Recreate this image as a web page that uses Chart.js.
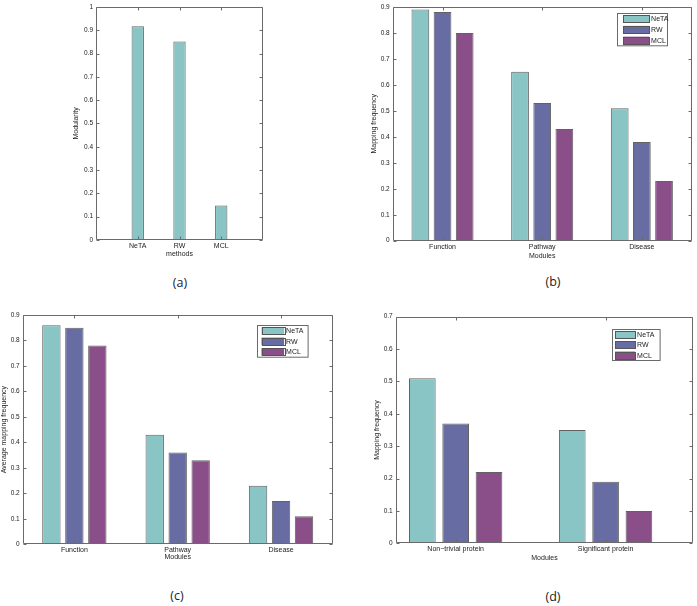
<!DOCTYPE html>
<html><head><meta charset="utf-8">
<script src="https://cdn.jsdelivr.net/npm/chart.js@4.4.0/dist/chart.umd.min.js"></script>
<style>
html,body{margin:0;padding:0;background:#fff;width:697px;height:606px;overflow:hidden;position:relative}
canvas{position:absolute}
.lab{position:absolute;font-family:'Open Sans',sans-serif;font-size:12.5px;color:#222;transform:translate(-50%,-50%);white-space:nowrap}
</style></head><body>
<canvas id="ca" width="230" height="260" style="left:50px;top:0px"></canvas>
<canvas id="cb" width="332" height="262" style="left:365px;top:0px"></canvas>
<canvas id="cc" width="345" height="265" style="left:0px;top:300px"></canvas>
<canvas id="cd" width="337" height="265" style="left:360px;top:300px"></canvas>
<div class="lab" style="left:180px;top:282px">(a)</div>
<div class="lab" style="left:553px;top:281px">(b)</div>
<div class="lab" style="left:177px;top:595px">(c)</div>
<div class="lab" style="left:553px;top:596px">(d)</div>
<script>
// ---- data ----
const seriesNames = ['NeTA', 'RW', 'MCL'];
const seriesColors = ['#89C5C5', '#676CA3', '#8A4F88'];

const methodsA = ['NeTA', 'RW', 'MCL'];
const modularityA = [0.917, 0.852, 0.148];
const yTicksA = [0, 0.1, 0.2, 0.3, 0.4, 0.5, 0.6, 0.7, 0.8, 0.9, 1];

const modulesB = ['Function', 'Pathway', 'Disease'];
const netaB = [0.89, 0.65, 0.51];
const rwB = [0.88, 0.53, 0.38];
const mclB = [0.80, 0.43, 0.23];
const yTicksB = [0, 0.1, 0.2, 0.3, 0.4, 0.5, 0.6, 0.7, 0.8, 0.9];

const modulesC = ['Function', 'Pathway', 'Disease'];
const netaC = [0.86, 0.43, 0.23];
const rwC = [0.85, 0.36, 0.17];
const mclC = [0.78, 0.33, 0.11];
const yTicksC = [0, 0.1, 0.2, 0.3, 0.4, 0.5, 0.6, 0.7, 0.8, 0.9];

const modulesD = ['Non\u2212trivial protein', 'Significant protein'];
const netaD = [0.51, 0.35];
const rwD = [0.37, 0.19];
const mclD = [0.22, 0.10];
const yTicksD = [0, 0.1, 0.2, 0.3, 0.4, 0.5, 0.6, 0.7];

// ---- drawing ----
Chart.defaults.font.family = "'Liberation Sans', Arial, sans-serif";
Chart.defaults.font.size = 7;
Chart.defaults.color = '#222';

const framePlugin = {
  id: 'frame',
  afterDatasetsDraw(chart, args, opts) {
    const ctx = chart.ctx, a = chart.chartArea, x = chart.scales.x, y = chart.scales.y;
    ctx.save();
    ctx.strokeStyle = '#6a6a6a';
    ctx.lineWidth = 1;
    const L = Math.round(a.left) + 0.5, R = Math.round(a.right) - 0.5;
    const T = Math.round(a.top) + 0.5, B = Math.round(a.bottom) - 0.5;
    ctx.beginPath();
    ctx.rect(L, T, R - L, B - T);
    y.ticks.forEach(t => {
      const py = Math.round(y.getPixelForValue(t.value)) + 0.5;
      ctx.moveTo(L, py); ctx.lineTo(L + 3, py);
      ctx.moveTo(R, py); ctx.lineTo(R - 3, py);
    });
    x.ticks.forEach(t => {
      const px = Math.round(x.getPixelForValue(t.value)) + 0.5;
      ctx.moveTo(px, B); ctx.lineTo(px, B - 3);
      ctx.moveTo(px, T); ctx.lineTo(px, T + 3);
    });
    ctx.stroke();
    const lg = opts.legend;
    if (lg) {
      const bx = Math.round(a.right - lg.right - lg.w) + 0.5;
      const by = Math.round(a.top + lg.top) + 0.5;
      ctx.fillStyle = '#fff';
      ctx.fillRect(bx, by, lg.w, lg.h);
      ctx.strokeStyle = '#6a6a6a';
      ctx.strokeRect(bx, by, lg.w, lg.h);
      ctx.font = "7px 'Liberation Sans', Arial, sans-serif";
      ctx.textBaseline = 'middle';
      ctx.textAlign = 'left';
      chart.data.datasets.forEach((ds, k) => {
        const cy = by + lg.h * (2 * k + 1) / 6;
        ctx.fillStyle = ds.backgroundColor;
        ctx.fillRect(bx + lg.sx, cy - 3.75, lg.sw, 7.5);
        ctx.strokeStyle = '#555';
        ctx.strokeRect(Math.round(bx + lg.sx) + 0.5, Math.round(cy - 3.75) + 0.5, Math.round(lg.sw), 7);
        ctx.fillStyle = '#222';
        ctx.fillText(ds.label, bx + lg.sx + lg.sw + 2, cy + 0.5);
      });
    }
    ctx.restore();
  }
};

function makeChart(id, c) {
  const datasets = c.series.map((vals, k) => ({
    label: c.names[k],
    data: vals.map((v, i) => ({ x: i + 1, y: v })),
    backgroundColor: seriesColors[k],
    borderColor: 'rgba(70,70,70,0.85)',
    borderWidth: 1,
    barPercentage: c.barPct,
    categoryPercentage: c.catPct
  }));
  return new Chart(document.getElementById(id), {
    type: 'bar',
    data: { datasets },
    plugins: [framePlugin],
    options: {
      responsive: false,
      animation: false,
      layout: { padding: { left: 0, top: c.pT, right: c.pR, bottom: 0 } },
      plugins: {
        legend: { display: false },
        tooltip: { enabled: false },
        frame: { legend: c.legend || null }
      },
      scales: {
        x: {
          type: 'linear', min: c.xMin, max: c.xMax, offset: false,
          afterBuildTicks: s => { s.ticks = c.categories.map((_, i) => ({ value: i + 1 })); },
          afterFit: s => { s.height = c.hX; },
          grid: { display: false, drawTicks: false },
          border: { display: false },
          ticks: {
            autoSkip: false, maxRotation: 0, minRotation: 0, padding: 2,
            color: '#222', font: { size: 7 },
            callback: v => c.categories[Math.round(v) - 1] || ''
          },
          title: { display: true, text: c.xTitle, color: '#222', font: { size: 7 }, padding: { top: 0, bottom: c.xtPad } }
        },
        y: {
          min: 0, max: c.yMax,
          afterBuildTicks: s => { s.ticks = c.yTicks.map(v => ({ value: v })); },
          afterFit: s => { s.width = c.wY; },
          grid: { display: false, drawTicks: false },
          border: { display: false },
          ticks: {
            padding: 3, color: '#222', font: { size: 6.5 },
            callback: v => String(+Number(v).toFixed(2))
          },
          title: { display: true, text: c.yTitle, color: '#222', font: { size: 7 }, padding: { top: c.ytPad, bottom: 0 } }
        }
      }
    }
  });
}

makeChart('ca', {
  categories: methodsA, names: ['Modularity'], series: [modularityA],
  xMin: 0, xMax: 4, yMax: 1, yTicks: yTicksA,
  barPct: 0.295, catPct: 1,
  pT: 4.7, pR: 17, wY: 46, hX: 20,
  xTitle: 'methods', xtPad: 1.5, yTitle: 'Modularity', ytPad: 21.8
});

makeChart('cb', {
  categories: modulesB, names: seriesNames, series: [netaB, rwB, mclB],
  xMin: 0.5, xMax: 3.5, yMax: 0.9, yTicks: yTicksB,
  barPct: 0.8, catPct: 0.667,
  pT: 6.7, pR: 5.3, wY: 27.7, hX: 21.3,
  xTitle: 'Modules', xtPad: 2.1, yTitle: 'Mapping frequency', ytPad: 4.8,
  legend: { right: 25, top: 6, w: 50, h: 32.3, sx: 5.6, sw: 26 }
});

makeChart('cc', {
  categories: modulesC, names: seriesNames, series: [netaC, rwC, mclC],
  xMin: 0.5, xMax: 3.5, yMax: 0.9, yTicks: yTicksC,
  barPct: 0.8, catPct: 0.667,
  pT: 15, pR: 12.3, wY: 22.7, hX: 20.7,
  xTitle: 'Modules', xtPad: 3.3, yTitle: 'Average mapping frequency', ytPad: 0,
  legend: { right: 25.4, top: 10, w: 50.6, h: 31.7, sx: 4, sw: 22.6 }
});

makeChart('cd', {
  categories: modulesD, names: seriesNames, series: [netaD, rwD, mclD],
  xMin: 0.6, xMax: 2.585, yMax: 0.7, yTicks: yTicksD,
  barPct: 0.8, catPct: 0.667,
  pT: 16.7, pR: 3.7, wY: 35.7, hX: 21.7,
  xTitle: 'Modules', xtPad: 3.1, yTitle: 'Mapping frequency', ytPad: 13.3,
  legend: { right: 34, top: 12.3, w: 47.6, h: 31, sx: 2.6, sw: 20 }
});
</script>
</body></html>
